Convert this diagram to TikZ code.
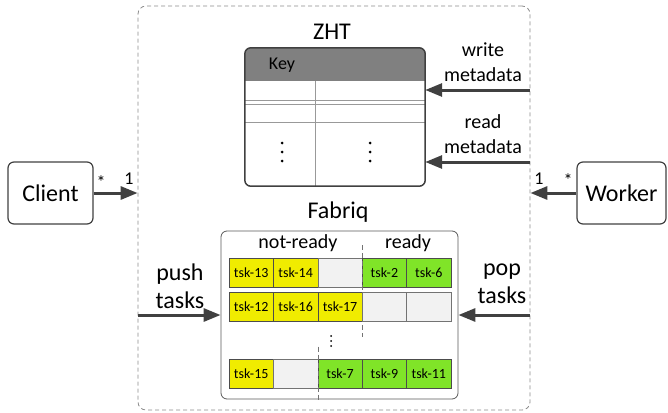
\documentclass[tikz,border=0pt]{standalone}
\usepackage{fontspec}
\setmainfont{Carlito}
\usepackage{xcolor}
\usepackage{tikz}
\usetikzlibrary{arrows.meta,positioning}

\definecolor{tskyellow}{RGB}{240,236,0}
\definecolor{tskgreen}{RGB}{128,228,40}
\definecolor{arrowgray}{RGB}{64,64,64}

\begin{document}
\begin{tikzpicture}[
  x=1pt, y=-1pt,
  node distance=0pt,
  frame/.style={draw=black!45, dashed, dash pattern=on 4pt off 3pt, rounded corners=8pt, line width=0.8pt},
  ent/.style={draw=arrowgray, line width=1.2pt, rounded corners=6pt, minimum height=62pt, font=\fontsize{24}{28}\selectfont},
  ttl/.style={font=\fontsize{24}{28}\selectfont},
  lbl/.style={align=center, font=\fontsize{20}{25}\selectfont},
  big/.style={align=center, font=\fontsize{24}{28}\selectfont},
  mult/.style={inner sep=1pt, font=\fontsize{18}{20}\selectfont},
  grid/.style={draw=black!40, line width=0.6pt},
  cell/.style={draw=black!70, minimum width=44.4pt, minimum height=29pt, inner sep=0pt, outer sep=0pt, font=\fontsize{14}{16}\selectfont},
  ycell/.style={cell, fill=tskyellow},
  gcell/.style={cell, fill=tskgreen},
  ecell/.style={cell, draw=black!55, fill=black!5},
  divider/.style={draw=black!55, dashed, dash pattern=on 5pt off 3pt, line width=0.6pt},
  arrow/.style={-{Triangle[length=17pt,width=13pt]}, line width=3pt, draw=arrowgray}
]
\useasboundingbox (0,0) rectangle (668,412);

% system boundary
\node[frame, minimum width=392pt, minimum height=404pt] (sys) at (334,208) {};

% ZHT table
\node[ttl] (zhtlbl) at (332,32) {ZHT};
\node[minimum width=180pt, minimum height=138pt, inner sep=0pt] (zht) at (335,117) {};
\begin{scope}
  \clip[rounded corners=6pt] (zht.north west) rectangle (zht.south east);
  \fill[black!50] (zht.north west) rectangle ([yshift=-33pt]zht.north east);
\end{scope}
\draw[grid] ([yshift=-52pt]zht.north west) -- ([yshift=-52pt]zht.north east);
\draw[grid] ([yshift=-56pt]zht.north west) -- ([yshift=-56pt]zht.north east);
\draw[grid] ([yshift=-74pt]zht.north west) -- ([yshift=-74pt]zht.north east);
\draw[grid] ([xshift=70pt,yshift=-33pt]zht.north west) -- ([xshift=70pt]zht.south west);
\draw[draw=arrowgray, line width=1.5pt, rounded corners=6pt] (zht.north west) rectangle (zht.south east);
\node[font=\fontsize{18}{20}\selectfont] (key) at (282,65) {Key};
\coordinate (kdots) at (282,152);
\coordinate (vdots) at (370,152);
\foreach \d in {-9,0,9} {
  \fill ([yshift=\d pt]kdots) circle (1.5pt);
  \fill ([yshift=\d pt]vdots) circle (1.5pt);
}

\node[lbl] (wlbl) at (483,62) {write\\metadata};
\node[lbl] (rlbl) at (483,134) {read\\metadata};
\coordinate (wsrc) at (530,90);
\coordinate (rsrc) at (530,162);
\draw[arrow] (wsrc) -- (wsrc -| zht.east);
\draw[arrow] (rsrc) -- (rsrc -| zht.east);

% client and worker
\node[ent, minimum width=85pt] (client) at (50.5,193) {Client};
\node[ent, minimum width=89pt] (worker) at (621.5,193) {Worker};
\draw[arrow] (client) -- (client -| sys.west);
\draw[arrow] (worker) -- (worker -| sys.east);
\node[mult] (cstar) at (101,182) {*};
\node[mult] (cone) at (129,179) {1};
\node[mult] (wone) at (539,179) {1};
\node[mult] (wstar) at (568,180) {*};

% Fabriq queues
\node[ttl] (fablbl) at (338,212) {Fabriq};
\node[draw=black!65, line width=0.8pt, rounded corners=6pt, minimum width=237pt, minimum height=168pt] (fab) at (339.5,315) {};
\node[lbl] (notready) at (298,243) {not-ready};
\node[lbl] (ready) at (408,243) {ready};

\node[ycell] (c11) at (251.2,272.5) {tsk-13};
\node[ycell, right=of c11] (c12) {tsk-14};
\node[ecell, right=of c12] (c13) {};
\node[gcell, right=of c13] (c14) {tsk-2};
\node[gcell, right=of c14] (c15) {tsk-6};

\node[ycell] (c21) at (251.2,306.5) {tsk-12};
\node[ycell, right=of c21] (c22) {tsk-16};
\node[ycell, right=of c22] (c23) {tsk-17};
\node[ecell, right=of c23] (c24) {};
\node[ecell, right=of c24] (c25) {};

\node[ycell] (c31) at (251.2,374) {tsk-15};
\node[ecell, right=of c31] (c32) {};
\node[gcell, right=of c32] (c33) {tsk-7};
\node[gcell, right=of c33] (c34) {tsk-9};
\node[gcell, right=of c34] (c35) {tsk-11};

\coordinate (fdots) at (331,341);
\foreach \d in {-5,0,5}
  \fill ([yshift=\d pt]fdots) circle (1pt);
\draw[divider] ([yshift=13pt]c13.north east) -- ([yshift=-16pt]c23.south east);
\draw[divider] ([yshift=13pt]c32.north east) -- ([yshift=-12pt]c32.south east);

\node[big] (push) at (180,286) {push\\tasks};
\node[big] (pop) at (502,284) {pop\\tasks};
\coordinate (pushsrc) at (138,315);
\coordinate (popsrc) at (530,315);
\draw[arrow] (pushsrc) -- (pushsrc -| fab.west);
\draw[arrow] (popsrc) -- (popsrc -| fab.east);
\end{tikzpicture}
\end{document}
